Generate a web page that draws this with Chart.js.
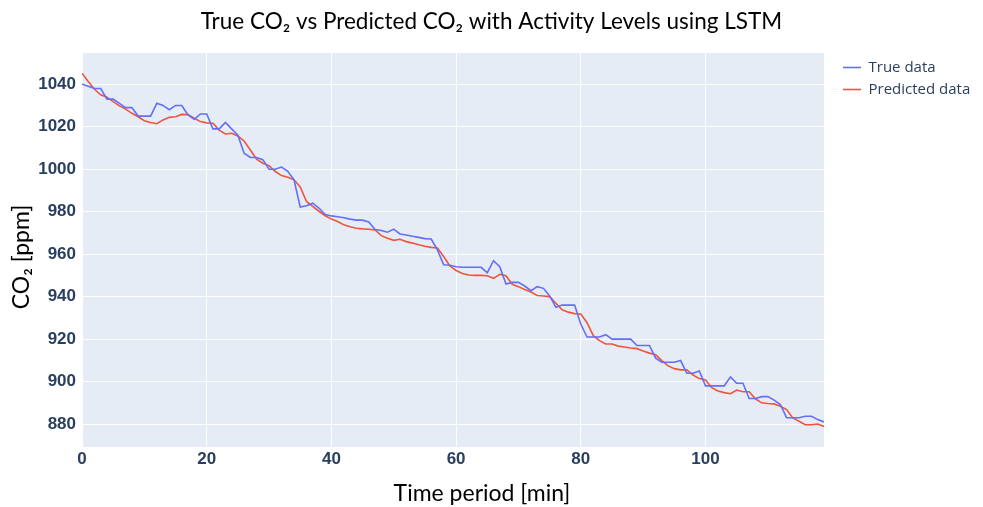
<!DOCTYPE html>
<html>
<head>
<meta charset="utf-8">
<script src="https://cdn.jsdelivr.net/npm/chart.js@4/dist/chart.umd.min.js"></script>
<style>
  html, body { margin: 0; padding: 0; background: #ffffff; }
  #wrap { width: 983px; height: 507px; }
</style>
</head>
<body>
<div id="wrap"><canvas id="c" width="983" height="507"></canvas></div>
<script>
// Time axis, minutes
const minutes = [
  0,1,2,3,4,5,6,7,8,9,10,11,12,13,14,15,16,17,18,19,
  20,21,22,23,24,25,26,27,28,29,30,31,32,33,34,35,36,37,38,39,
  40,41,42,43,44,45,46,47,48,49,50,51,52,53,54,55,56,57,58,59,
  60,61,62,63,64,65,66,67,68,69,70,71,72,73,74,75,76,77,78,79,
  80,81,82,83,84,85,86,87,88,89,90,91,92,93,94,95,96,97,98,99,
  100,101,102,103,104,105,106,107,108,109,110,111,112,113,114,115,116,117,118,119
];

// Measured CO2 [ppm]
const trueCO2 = [
  1040,1039,1038,1038,1033,1033,1031,1029,1029,1025,
  1025,1025,1031,1030,1028,1030,1030,1025.5,1023.5,1026,
  1026,1019,1019,1022,1019,1016,1007.5,1005.5,1005.5,1004.5,
  1000,1000,1001,999,995,982.2,982.8,984,981.7,978.6,
  978,977.6,977.1,976.5,976,976,975.1,971.6,971.1,970.3,
  971.8,969.5,969,968.4,967.9,967.3,967.1,962,955,954.8,
  954.1,953.8,953.8,953.8,953.8,951.3,956.9,954.1,945.9,946.7,
  946.7,945,942.8,944.7,943.9,940.3,935,936,936,936,
  927,921,921,921,922.1,920,920,920,920,917,
  917,917,911,909.1,909.1,909.1,909.9,903.9,903.9,905,
  898,898,898,898,902.2,899.2,899.2,892,892,892.9,
  893,891.3,889.2,883,883,883,883.7,883.7,882.1,881
];

// LSTM prediction [ppm]
const predictedCO2 = [
  1045.2,1041.3,1037.6,1035,1033.9,1031.8,1029.8,1028.3,1026.3,1024.7,
  1022.8,1022,1021.4,1023.2,1024.4,1024.7,1025.8,1025.7,1024,1022.4,
  1021.8,1021.6,1018.4,1016.6,1016.9,1015.6,1013.3,1009,1004.7,1002.8,
  1001.7,998.9,997,996.2,995,991.6,984.8,982.5,980.2,978.1,
  976.5,975.4,973.8,972.9,972.2,971.9,971.7,971.4,968.7,967.5,
  966.5,967,965.9,965.2,964.4,963.7,963.2,962.9,958.9,954.4,
  952.3,950.9,950.2,950,950,949.8,948.6,950.5,949.8,945.8,
  944.7,943.4,942.2,940.5,940.3,940,936.9,933.8,932.7,932,
  931.8,927.7,921.6,919.3,917.7,917.7,916.7,916.3,915.8,915.5,
  914.4,913.4,912.6,909.9,907.4,906.1,905.5,905.5,903.1,901.4,
  900.8,897.1,895.6,894.8,894.3,896,895.2,895.2,891.9,890,
  889.7,889.5,888.4,886.8,882.9,881.3,879.7,879.7,880,878.9
];

const xTicks = [0, 20, 40, 60, 80, 100];
const yTicks = [880, 900, 920, 940, 960, 980, 1000, 1020, 1040];

const chartTitle = 'True CO\u2082 vs Predicted CO\u2082 with Activity Levels using LSTM';
const xTitle = 'Time period [min]';
const yTitle = 'CO\u2082 [ppm]';
const seriesNames = ['True data', 'Predicted data'];

const tickFont = { family: '"Liberation Sans", Arial, sans-serif', size: 17, weight: 'bold' };
const tickColor = '#2a3f5f';
const captionFont = '23px Lato, "Open Sans", sans-serif';

// Light blue-grey plotting panel behind the grid
const plotBackground = {
  id: 'plotBackground',
  beforeDraw(chart) {
    const { ctx, chartArea: a } = chart;
    ctx.save();
    ctx.fillStyle = '#E5ECF6';
    ctx.fillRect(a.left, a.top, a.right - a.left, a.bottom - a.top);
    ctx.restore();
  }
};

// Legend column: fixed width, nudged away from the panel
const legendPlacement = {
  id: 'legendPlacement',
  beforeInit(chart) {
    const lg = chart.legend;
    const fit = lg.fit;
    lg.fit = function () { fit.call(this); this.width = 159; };
  },
  afterLayout(chart) {
    chart.legend.left += 12;
    chart.legend.right += 12;
  }
};

// Axis captions, placed on the figure
const axisCaptions = {
  id: 'axisCaptions',
  afterDraw(chart) {
    const ctx = chart.ctx;
    ctx.save();
    ctx.fillStyle = '#000000';
    ctx.font = captionFont;
    ctx.textAlign = 'center';
    ctx.textBaseline = 'middle';
    ctx.fillText(xTitle, 482, 494);
    ctx.translate(22, 257);
    ctx.rotate(-Math.PI / 2);
    ctx.fillText(yTitle, 0, 0);
    ctx.restore();
  }
};

new Chart(document.getElementById('c'), {
  type: 'line',
  data: {
    labels: minutes,
    datasets: [
      {
        label: seriesNames[0],
        data: trueCO2,
        borderColor: '#636EFA',
        backgroundColor: '#636EFA',
        borderWidth: 1.6,
        pointRadius: 0,
        tension: 0,
        fill: false
      },
      {
        label: seriesNames[1],
        data: predictedCO2,
        borderColor: '#EF553B',
        backgroundColor: '#EF553B',
        borderWidth: 1.6,
        pointRadius: 0,
        tension: 0,
        fill: false
      }
    ]
  },
  options: {
    responsive: false,
    animation: false,
    devicePixelRatio: 1,
    layout: { padding: { left: 0, right: 0, top: 0, bottom: 0 } },
    plugins: {
      title: {
        display: true,
        text: chartTitle,
        color: '#000000',
        font: { family: 'Lato, "Open Sans", sans-serif', size: 22.5, weight: 'normal', lineHeight: 1.2 },
        padding: { top: 8.5, bottom: 17.5 }
      },
      legend: {
        display: true,
        position: 'right',
        align: 'start',
        fullSize: false,
        labels: {
          color: tickColor,
          font: { family: '"Open Sans", sans-serif', size: 15 },
          usePointStyle: true,
          pointStyle: 'line',
          pointStyleWidth: 18,
          padding: 7
        }
      },
      tooltip: { enabled: false }
    },
    scales: {
      x: {
        type: 'linear',
        min: 0,
        max: 119,
        afterFit(scale) { scale.height = 60; },
        afterBuildTicks(scale) { scale.ticks = xTicks.map(v => ({ value: v })); },
        grid: { color: '#ffffff', lineWidth: 1, drawTicks: false },
        border: { display: false },
        ticks: { color: tickColor, font: tickFont, padding: 2, maxRotation: 0, callback: v => String(v) }
      },
      y: {
        type: 'linear',
        min: 869.2,
        max: 1054.7,
        afterFit(scale) { scale.width = 82; },
        afterBuildTicks(scale) { scale.ticks = yTicks.map(v => ({ value: v })); },
        grid: { color: '#ffffff', lineWidth: 1, drawTicks: false },
        border: { display: false },
        ticks: { color: tickColor, font: tickFont, padding: 6, callback: v => String(v) }
      }
    }
  },
  plugins: [plotBackground, legendPlacement, axisCaptions]
});
</script>
</body>
</html>
